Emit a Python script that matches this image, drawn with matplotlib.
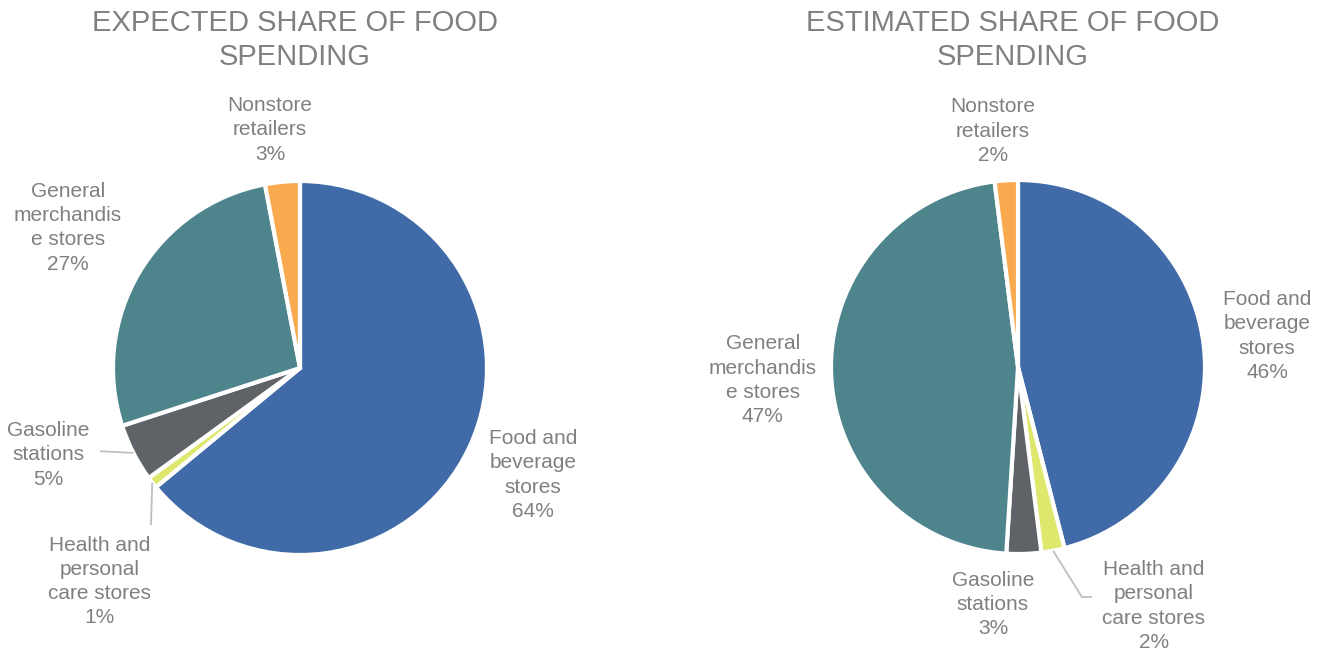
import numpy as np
import matplotlib.pyplot as plt

plt.rcParams['font.family'] = ['Liberation Sans', 'DejaVu Sans']

# Segments in drawing order (clockwise from 12 o'clock)
segments = ["Food and\nbeverage\nstores",
            "Health and\npersonal\ncare stores",
            "Gasoline\nstations",
            "General\nmerchandis\ne stores",
            "Nonstore\nretailers"]
expected = [64, 1, 5, 27, 3]
estimated = [46, 2, 3, 47, 2]

colors = ["#416BA8", "#DDE86C", "#5F6267", "#4E858C", "#F9A94E"]
text_gray = "#808080"
line_gray = "#BFBFBF"

# label centres in pie-radius units
expected_label_pos = [(1.246, -0.572), (-1.07, -1.14), (-1.345, -0.465),
                      (-1.241, 0.749), (-0.160, 1.273)]
estimated_label_pos = [(1.332, 0.166), (0.727, -1.278), (-0.134, -1.268),
                       (-1.364, -0.070), (-0.134, 1.262)]


def draw_pie(ax, values, label_pos, leaders, title):
    wedges, _ = ax.pie(values, colors=colors, startangle=90, counterclock=False,
                       radius=1.0, wedgeprops=dict(edgecolor="white", linewidth=3))
    for w, name, val, (x, y) in zip(wedges, segments, values, label_pos):
        ax.text(x, y, f"{name}\n{val}%", ha="center", va="center",
                fontsize=15, color=text_gray, linespacing=1.34)
    # leader lines: start at wedge edge, then follow the given points
    for idx, pts in leaders.items():
        w = wedges[idx]
        ang = np.deg2rad((w.theta1 + w.theta2) / 2)
        xs = [np.cos(ang)] + [p[0] for p in pts]
        ys = [np.sin(ang)] + [p[1] for p in pts]
        ax.plot(xs, ys, color=line_gray, linewidth=1.3, solid_capstyle="butt",
                clip_on=False)
    ax.set_xlim(-1, 1)
    ax.set_ylim(-1, 1)
    ax.set_aspect("equal")
    ax.axis("off")
    fig.text(ax.get_position().x0 + ax.get_position().width / 2 - 0.004, 0.939, title,
             ha="center", va="center", fontsize=21, color=text_gray, linespacing=1.3)


fig = plt.figure(figsize=(13.27, 6.54), dpi=100)

rx, ry = 187 / 1327, 187 / 654
ax1 = fig.add_axes([300 / 1327 - rx, 1 - 368 / 654 - ry, 2 * rx, 2 * ry])
ax2 = fig.add_axes([1018 / 1327 - rx, 1 - 367 / 654 - ry, 2 * rx, 2 * ry])

draw_pie(ax1, expected, expected_label_pos,
         {1: [(-0.797, -0.84)], 2: [(-1.07, -0.445)]},
         "EXPECTED SHARE OF FOOD\nSPENDING")
draw_pie(ax2, estimated, estimated_label_pos,
         {1: [(0.342, -1.23), (0.396, -1.23)]},
         "ESTIMATED SHARE OF FOOD\nSPENDING")

fig.savefig("out.png", dpi=100)
